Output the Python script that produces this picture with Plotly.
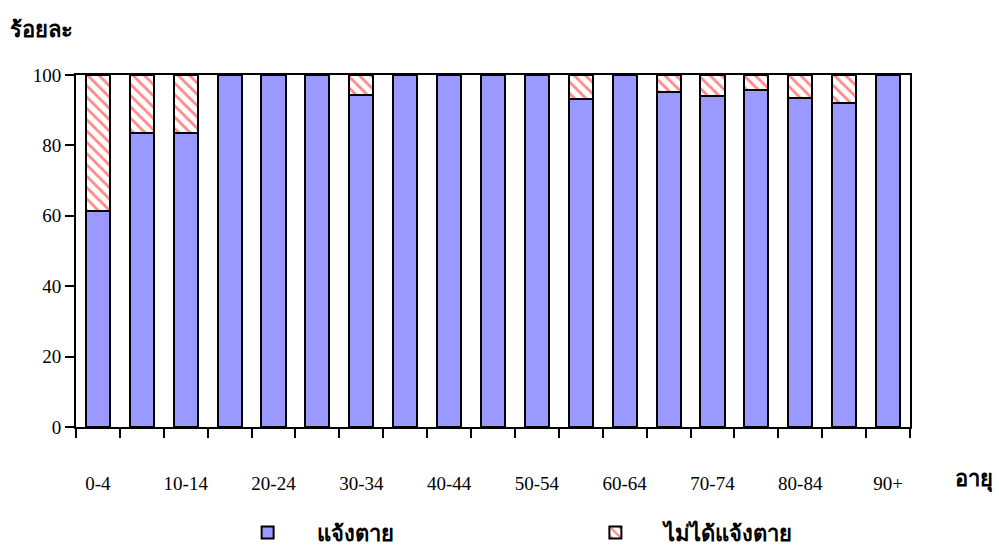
import plotly.graph_objects as go

categories = ["0-4", "5-9", "10-14", "15-19", "20-24", "25-29", "30-34", "35-39",
              "40-44", "45-49", "50-54", "55-59", "60-64", "65-69", "70-74",
              "75-79", "80-84", "85-89", "90+"]
reported = [61.5, 83.5, 83.5, 100, 100, 100, 94.3, 100, 100, 100, 100, 93.2,
            100, 95.3, 94.1, 95.8, 93.6, 92.0, 100]
not_reported = [round(100 - v, 1) for v in reported]

series_names = ["แจ้งตาย", "ไม่ได้แจ้งตาย"]
y_ticks = [0, 20, 40, 60, 80, 100]

idx = list(range(len(categories)))
label_idx = idx[::2]
label_txt = [categories[i] for i in label_idx]
boundaries = [i - 0.5 for i in range(len(categories) + 1)]

SERIF = "Liberation Serif, Times New Roman, serif"

fig = go.Figure()
fig.add_trace(go.Bar(
    x=idx, y=reported, name=series_names[0], width=0.55, legend="legend",
    marker=dict(color="#9999FF", line=dict(color="black", width=2)),
))
fig.add_trace(go.Bar(
    x=idx, y=not_reported, name=series_names[1], width=0.55, legend="legend2",
    marker=dict(color="white", line=dict(color="black", width=2),
                pattern=dict(shape="\\", fgcolor="#FF1010", bgcolor="white",
                             size=8, solidity=0.35)),
))

legend_font = dict(size=22, family=SERIF, color="black", weight="bold")

fig.update_layout(
    barmode="stack",
    width=999, height=545,
    margin=dict(l=76, r=89, t=75, b=118, autoexpand=False),
    plot_bgcolor="white", paper_bgcolor="white",
    font=dict(family=SERIF, size=19, color="black"),
    showlegend=True,
    legend=dict(orientation="h", x=0.171, y=-0.30, xanchor="left", yanchor="middle",
                font=legend_font, itemsizing="constant", itemwidth=88),
    legend2=dict(orientation="h", x=0.588, y=-0.30, xanchor="left", yanchor="middle",
                 font=legend_font, itemsizing="constant", itemwidth=88),
    xaxis=dict(
        range=[-0.5, len(categories) - 0.5],
        tickmode="array", tickvals=label_idx, ticktext=label_txt,
        ticks="", ticklabelstandoff=38,
        showline=True, linecolor="black", linewidth=2, mirror=True,
        showgrid=False, zeroline=False,
        tickfont=dict(size=19, family=SERIF),
        minor=dict(tickmode="array", tickvals=boundaries, ticks="outside",
                   ticklen=9, tickwidth=2, tickcolor="black", showgrid=False),
    ),
    yaxis=dict(
        range=[0, 100], tickmode="array", tickvals=y_ticks,
        ticks="outside", ticklen=9, tickwidth=2, tickcolor="black",
        showline=True, linecolor="black", linewidth=2, mirror=True,
        showgrid=False, zeroline=False,
        tickfont=dict(size=19, family=SERIF),
    ),
    annotations=[
        dict(text="<b>ร้อยละ</b>", xref="paper", yref="paper", x=-0.081, y=1.128,
             xanchor="left", yanchor="middle", showarrow=False,
             font=dict(size=22, family=SERIF)),
        dict(text="<b>อายุ</b>", xref="paper", yref="paper", x=1.102, y=-0.15,
             xanchor="right", yanchor="middle", showarrow=False,
             font=dict(size=22, family=SERIF)),
    ],
)

fig.write_html("out.html", config={"displayModeBar": False},
               post_script="document.body.style.margin='0';document.body.style.padding='0';")
